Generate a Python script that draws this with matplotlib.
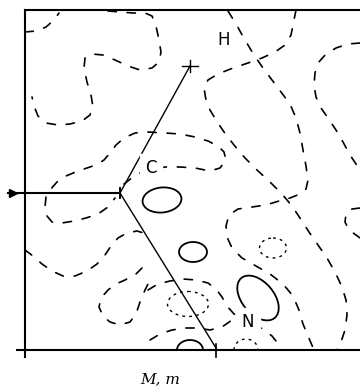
import matplotlib.pyplot as plt
from matplotlib.patches import Ellipse, Arc

# map section, coordinates in plot units (x right, y down)
frame_left, frame_top, frame_bottom, frame_right = 25, 10, 350, 360

# atoms: C at the origin of the bonds, then H and N
atom_x = [120, 190, 216]
atom_y = [193, 66, 348]
atom_names = ["C", "H", "N"]
label_x = [151, 224, 248]
label_y = [168, 40, 322]

# negative (dashed) contours
top_arc_x = [25, 36, 46, 54, 59]
top_arc_y = [32, 31, 27, 20, 13]

loop_b_x = [108, 120, 133, 145, 152, 156, 159, 161, 159, 152, 140, 128, 115, 103, 92, 85, 84, 87, 91, 93, 90, 82, 70, 58, 46, 38, 34, 32]
loop_b_y = [11, 12, 13, 13, 16, 26, 40, 52, 62, 68, 70, 66, 60, 55, 54, 58, 68, 82, 95, 107, 115, 121, 124, 125, 123, 116, 106, 97]

contour_c_x = [228, 236, 245, 254, 263, 272, 281, 290, 296, 300, 303, 306, 308, 306, 300, 290, 279, 266, 252, 238, 229, 226, 227, 232, 242, 256, 270, 283, 293, 299, 303, 308, 314]
contour_c_y = [11, 24, 40, 55, 68, 80, 92, 104, 118, 133, 150, 166, 180, 189, 194, 198, 201, 205, 207, 209, 215, 226, 237, 248, 258, 266, 274, 284, 296, 310, 324, 336, 350]

contour_g_x = [296, 294, 291, 285, 275, 262, 248, 233, 218, 208, 204, 206, 210, 216, 224, 234, 245, 257, 270, 282, 292, 300, 309, 318, 327, 335, 342, 346, 347, 345, 341, 337]
contour_g_y = [10, 20, 35, 45, 52, 58, 63, 68, 74, 80, 88, 100, 110, 120, 132, 145, 158, 170, 182, 194, 206, 218, 232, 245, 258, 272, 287, 300, 315, 330, 342, 350]

contour_i_x = [360, 348, 336, 326, 318, 315, 314, 316, 321, 328, 336, 343, 350, 360]
contour_i_y = [43, 44, 48, 54, 63, 73, 85, 97, 108, 118, 130, 142, 155, 170]

contour_j_x = [360, 352, 346, 345, 349, 356, 360]
contour_j_y = [208, 209, 214, 222, 230, 235, 238]

contour_e_x = [124, 133, 142, 155, 165, 180, 195, 210, 220, 226, 224, 218, 208, 195, 180, 165, 148, 135, 124, 116, 110, 104, 98, 90, 78, 66, 57, 50, 46, 45, 47, 52, 62, 74, 86, 98, 108, 115]
contour_e_y = [184, 177, 172, 169, 167, 167, 168, 171, 168, 160, 152, 146, 141, 137, 134, 133, 132, 133, 138, 145, 153, 160, 164, 167, 171, 176, 182, 190, 197, 207, 216, 222, 223, 221, 218, 214, 207, 198]

contour_k_x = [25, 33, 42, 52, 63, 75, 87, 97, 105, 111, 118, 127, 137, 147]
contour_k_y = [250, 256, 264, 271, 276, 276, 271, 264, 255, 246, 238, 233, 231, 234]

contour_l_x = [142, 136, 125, 116, 108, 101, 99, 103, 110, 120, 130, 136, 140, 145, 150]
contour_l_y = [268, 274, 280, 284, 290, 298, 307, 316, 322, 325, 322, 314, 302, 290, 280]

contour_m_x = [148, 158, 170, 183, 196, 208, 216, 222, 227, 234, 240]
contour_m_y = [290, 284, 281, 279, 280, 283, 289, 297, 306, 314, 318]

contour_m2_x = [150, 160, 172, 185, 198, 210, 222, 232]
contour_m2_y = [340, 334, 330, 328, 328, 330, 327, 320]

contour_n_x = [254, 263, 272, 280]
contour_n_y = [325, 329, 336, 346]

dashed = [
    (top_arc_x, top_arc_y), (loop_b_x, loop_b_y), (contour_c_x, contour_c_y),
    (contour_g_x, contour_g_y), (contour_i_x, contour_i_y), (contour_j_x, contour_j_y),
    (contour_e_x, contour_e_y), (contour_k_x, contour_k_y), (contour_l_x, contour_l_y),
    (contour_m_x, contour_m_y), (contour_m2_x, contour_m2_y), (contour_n_x, contour_n_y),
]

# positive (solid) peaks: centre x, centre y, width, height, angle
solid_cx = [162, 193, 258]
solid_cy = [200, 252, 298]
solid_w = [39, 28, 52]
solid_h = [25, 20, 32]
solid_ang = [-6, 0, 50]

# zero-level (dotted) loops
dotted_cx = [273, 188]
dotted_cy = [248, 304]
dotted_w = [27, 41]
dotted_h = [20, 25]

fig = plt.figure(figsize=(3.6, 3.87), dpi=100)
ax = fig.add_axes([0, 0, 1, 1])
ax.set_xlim(0, 360)
ax.set_ylim(387, 0)
ax.axis("off")

# frame of the section
ax.plot([frame_left, frame_left], [frame_top, frame_bottom + 7], color="black", lw=1.5)
ax.plot([frame_left, frame_right], [frame_top, frame_top], color="black", lw=1.5)
ax.plot([frame_left - 8, frame_right], [frame_bottom, frame_bottom], color="black", lw=1.5)
ax.plot([atom_x[2], atom_x[2]], [frame_bottom - 6, frame_bottom + 7], color="black", lw=1.2)

# bonds from C
for i in (1, 2):
    ax.plot([atom_x[0], atom_x[i]], [atom_y[0], atom_y[i]], color="black", lw=1.0)
ax.plot([8, atom_x[0]], [atom_y[0], atom_y[0]], color="black", lw=1.5)
ax.plot([13], [atom_y[0]], marker=">", color="black", ms=6)
ax.plot([atom_x[0], atom_x[0]], [atom_y[0] - 5, atom_y[0] + 5], color="black", lw=1.4)
ax.plot([atom_x[1] - 8, atom_x[1] + 8], [atom_y[1], atom_y[1]], color="black", lw=1.0)
ax.plot([atom_x[1], atom_x[1]], [atom_y[1] - 6, atom_y[1] + 6], color="black", lw=1.0)

for xs, ys in dashed:
    ax.plot(xs, ys, color="black", lw=1.2, linestyle=(0, (5, 6.5)),
            dash_capstyle="round")

for cx, cy, w, h, a in zip(solid_cx, solid_cy, solid_w, solid_h, solid_ang):
    ax.add_patch(Ellipse((cx, cy), w, h, angle=a, fill=False, color="black", lw=1.3))

# small peak cut by the lower edge
ax.add_patch(Arc((190, frame_bottom), 26, 20, theta1=180, theta2=360,
                 color="black", lw=1.3))

for cx, cy, w, h in zip(dotted_cx, dotted_cy, dotted_w, dotted_h):
    ax.add_patch(Ellipse((cx, cy), w, h, fill=False, color="black", lw=1.0,
                         linestyle=(0, (2, 3))))
ax.add_patch(Arc((246, frame_bottom), 24, 22, theta1=180, theta2=360,
                 color="black", lw=1.0, linestyle=(0, (2, 3))))

for name, lx, ly in zip(atom_names, label_x, label_y):
    ax.text(lx, ly, name, fontsize=12, ha="center", va="center",
            backgroundcolor="white", family="DejaVu Sans")

ax.text(160, 379, "M, m", fontsize=11, style="italic", family="DejaVu Serif",
        ha="center", va="center")

fig.savefig("out.png", dpi=100)
